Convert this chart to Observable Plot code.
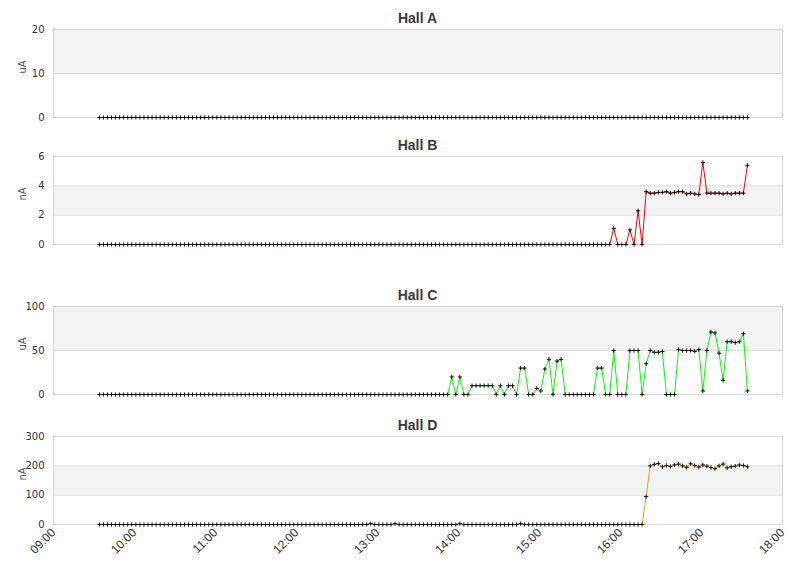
<!DOCTYPE html>
<html><head><meta charset="utf-8">
<script src="https://cdn.jsdelivr.net/npm/d3@7"></script>
<script src="https://cdn.jsdelivr.net/npm/@observablehq/plot@0.6"></script>
<style>
body{margin:0;background:#fff;}
#wrap{position:relative;width:811px;height:578px;overflow:hidden;font-family:"DejaVu Sans",sans-serif;}
.title{position:absolute;left:53px;width:729px;text-align:center;font:bold 14px "Liberation Sans",Arial,sans-serif;color:#3a3a3a;line-height:16px;}
.panel{position:absolute;left:0;}
</style></head><body><div id="wrap"></div>
<script>
// ---------- data ----------
const times = [
"09:34","09:37","09:40","09:43","09:46","09:49","09:52","09:55","09:58",
"10:01","10:04","10:07","10:10","10:13","10:16","10:19","10:22","10:25","10:28","10:31","10:34","10:37","10:40","10:43","10:46","10:49","10:52","10:55","10:58",
"11:01","11:04","11:07","11:10","11:13","11:16","11:19","11:22","11:25","11:28","11:31","11:34","11:37","11:40","11:43","11:46","11:49","11:52","11:55","11:58",
"12:01","12:04","12:07","12:10","12:13","12:16","12:19","12:22","12:25","12:28","12:31","12:34","12:37","12:40","12:43","12:46","12:49","12:52","12:55","12:58",
"13:01","13:04","13:07","13:10","13:13","13:16","13:19","13:22","13:25","13:28","13:31","13:34","13:37","13:40","13:43","13:46","13:49","13:52","13:55","13:58",
"14:01","14:04","14:07","14:10","14:13","14:16","14:19","14:22","14:25","14:28","14:31","14:34","14:37","14:40","14:43","14:46","14:49","14:52","14:55","14:58",
"15:01","15:04","15:07","15:10","15:13","15:16","15:19","15:22","15:25","15:28","15:31","15:34","15:37","15:40","15:43","15:46","15:49","15:52","15:55","15:58",
"16:01","16:04","16:07","16:10","16:13","16:16","16:19","16:22","16:25","16:28","16:31","16:34","16:37","16:40","16:43","16:46","16:49","16:52","16:55","16:58",
"17:01","17:04","17:07","17:10","17:13","17:16","17:19","17:22","17:25","17:28","17:31","17:34"
];
const hallA = [
0,0,0,0,0,0,0,0,0,0,0,0,0,0,0,0,0,0,0,0,
0,0,0,0,0,0,0,0,0,0,0,0,0,0,0,0,0,0,0,0,
0,0,0,0,0,0,0,0,0,0,0,0,0,0,0,0,0,0,0,0,
0,0,0,0,0,0,0,0,0,0,0,0,0,0,0,0,0,0,0,0,
0,0,0,0,0,0,0,0,0,0,0,0,0,0,0,0,0,0,0,0,
0,0,0,0,0,0,0,0,0,0,0,0,0,0,0,0,0,0,0,0,
0,0,0,0,0,0,0,0,0,0,0,0,0,0,0,0,0,0,0,0,
0,0,0,0,0,0,0,0,0,0,0,0,0,0,0,0,0,0,0,0,
0
];
const hallB = [
0,0,0,0,0,0,0,0,0,0,0,0,0,0,0,0,0,0,0,0,
0,0,0,0,0,0,0,0,0,0,0,0,0,0,0,0,0,0,0,0,
0,0,0,0,0,0,0,0,0,0,0,0,0,0,0,0,0,0,0,0,
0,0,0,0,0,0,0,0,0,0,0,0,0,0,0,0,0,0,0,0,
0,0,0,0,0,0,0,0,0,0,0,0,0,0,0,0,0,0,0,0,
0,0,0,0,0,0,0,0,0,0,0,0,0,0,0,0,0,0,0,0,
0,0,0,0,0,0,0,1.1,0,0,0,1.0,0,2.3,0,3.6,3.5,3.5,3.55,3.55,
3.6,3.5,3.55,3.6,3.6,3.45,3.5,3.45,3.4,5.6,3.5,3.5,3.5,3.5,3.45,3.5,3.45,3.5,3.5,3.5,
5.4
];
const hallC = [
0,0,0,0,0,0,0,0,0,0,0,0,0,0,0,0,0,0,0,0,
0,0,0,0,0,0,0,0,0,0,0,0,0,0,0,0,0,0,0,0,
0,0,0,0,0,0,0,0,0,0,0,0,0,0,0,0,0,0,0,0,
0,0,0,0,0,0,0,0,0,0,0,0,0,0,0,0,0,0,0,0,
0,0,0,0,0,0,0,20,0,20,0,0,10,10,10,10,10,10,0,10,
0,10,10,0,30,30,0,0,7,4,29,40,0,38,40,0,0,0,0,0,
0,0,0,30,30,0,0,50,0,0,0,50,50,50,0,35,50,48,48,49,
0,0,0,51,50,50,50,49,51,4,50,71,70,47,16,60,60,59,60,69,
4
];
const hallD = [
0,0,0,0,0,0,0,0,0,0,0,0,0,0,0,0,0,0,0,0,
0,0,0,0,0,0,0,0,0,0,0,0,0,0,0,0,0,0,0,0,
0,0,0,0,0,0,0,0,0,0,0,0,0,0,0,0,0,0,0,0,
0,0,0,0,0,0,0,3,0,0,0,0,0,3,0,0,0,0,0,0,
0,0,0,0,0,0,0,0,0,3,0,0,0,0,0,0,0,0,0,0,
0,0,0,0,3,0,0,0,0,0,0,0,0,0,0,0,0,0,0,0,
0,0,0,0,0,0,0,0,0,0,0,0,0,0,0,95,200,205,208,197,
201,198,203,206,200,195,207,201,196,203,199,194,190,200,206,193,197,199,203,201,
197
];
const titles = ["Hall A","Hall B","Hall C","Hall D"];
const units = ["uA","nA","uA","nA"];
const yTicksA = [0,10,20], yTicksB = [0,2,4,6], yTicksC = [0,50,100], yTicksD = [0,100,200,300];
const bandA = [10,20], bandB = [2,4], bandC = [50,100], bandD = [100,200];
const xTickLabels = ["09:00","10:00","11:00","12:00","13:00","14:00","15:00","16:00","17:00","18:00"];

// ---------- layout ----------
const toDate = s => new Date(Date.UTC(2020,0,1,+s.slice(0,2),+s.slice(3,5)));
const xDomain = [toDate("09:00"), toDate("18:00")];
const xTicks = xTickLabels.map(toDate);
const layout = [
  {values:hallA, ticks:yTicksA, band:bandA, color:"#4572a7", frameTop:29, titleY:18},
  {values:hallB, ticks:yTicksB, band:bandB, color:"#ff0000", frameTop:156, titleY:145},
  {values:hallC, ticks:yTicksC, band:bandC, color:"#00ff00", frameTop:306, titleY:295},
  {values:hallD, ticks:yTicksD, band:bandD, color:"#e8a317", frameTop:436, titleY:425}
];
const wrap = document.getElementById("wrap");
const PAD = 8, FH = 88;
layout.forEach((p, k) => {
  const last = k === layout.length - 1;
  const data = times.map((t, i) => ({t: toDate(t), v: p.values[i]}));
  const mb = last ? 54 : PAD;
  const marks = [
    Plot.rect([p.band], {x1: () => xDomain[0], x2: () => xDomain[1], y1: d => d[0], y2: d => d[1], fill: "#f3f3f3"}),
    Plot.gridY(p.ticks, {stroke: "#dcdcdc", strokeOpacity: 1}),
    Plot.frame({stroke: "#d6d6d6"}),
    Plot.axisY(p.ticks, {tickSize: 0, tickPadding: 9, label: null, fontSize: 10, fill: "#333"}),
    Plot.text([units[k]], {frameAnchor: "left", dx: -31, rotate: -90, fontSize: 10, fill: "#555", text: d => d}),
    Plot.line(data, {x: "t", y: "v", stroke: p.color, strokeWidth: 1}),
    Plot.dot(data, {x: "t", y: "v", symbol: "plus", r: 1.5, stroke: "#000", strokeWidth: 0.9})
  ];
  if (last) marks.push(Plot.axisX(xTicks, {tickSize: 0, tickPadding: 6, tickRotate: -45,
    tickFormat: d3.utcFormat("%H:%M"), label: null, fontSize: 12, fill: "#333", fontFamily: "Liberation Sans"}));
  const svg = Plot.plot({
    width: 811, height: FH + PAD + mb,
    marginLeft: 53, marginRight: 29, marginTop: PAD, marginBottom: mb,
    style: {background: "transparent", overflow: "visible", fontFamily: "DejaVu Sans", fontSize: "10px", color: "#333"},
    x: last ? {type: "utc", domain: xDomain} : {type: "utc", domain: xDomain, axis: null},
    y: {domain: [p.ticks[0], p.ticks[p.ticks.length - 1]]},
    marks
  });
  svg.classList.add("panel");
  svg.style.top = (p.frameTop - PAD) + "px";
  svg.style.position = "absolute";
  wrap.appendChild(svg);
  const t = document.createElement("div");
  t.className = "title";
  t.textContent = titles[k];
  t.style.top = (p.titleY - 8) + "px";
  wrap.appendChild(t);
});
</script></body></html>
